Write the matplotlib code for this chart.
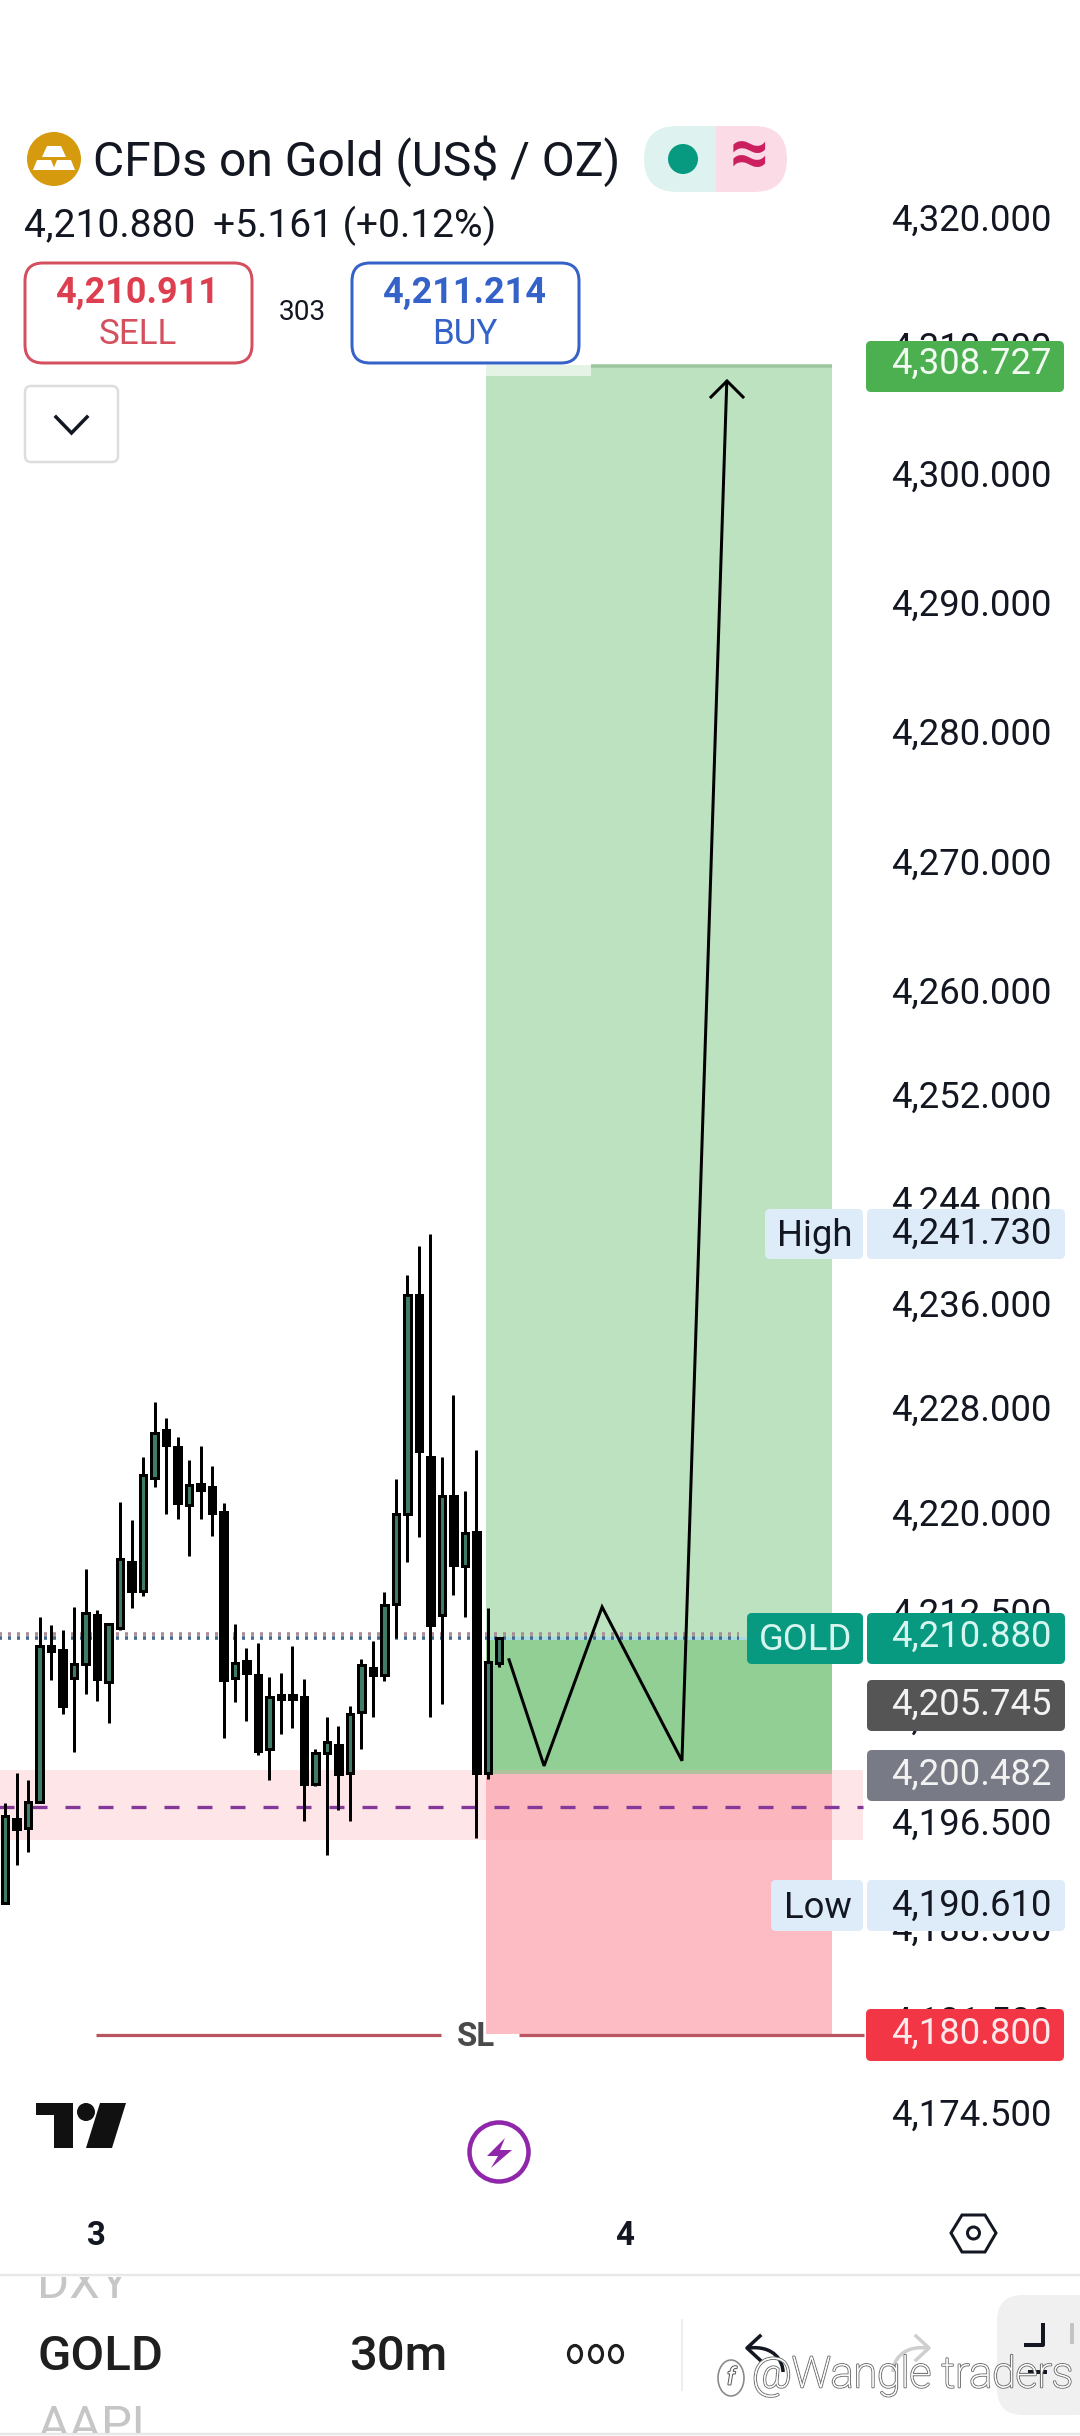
import math
import matplotlib
matplotlib.use("Agg")
import matplotlib.pyplot as plt
from matplotlib.patches import Rectangle, FancyBboxPatch, Polygon, Circle, Ellipse, PathPatch
from matplotlib.path import Path
from matplotlib.ticker import NullLocator, FixedLocator, FixedFormatter
from matplotlib.transforms import ScaledTranslation
import matplotlib.patheffects as pe

# ---------- data ----------
highs = [4197.95,4200.28,4199.72,4212.11,4211.51,4211.14,4212.85,4215.77,4212.63,4211.59,
         4220.87,4219.50,4224.30,4228.52,4227.25,4225.85,4224.08,4225.11,4223.60,4220.76,
         4211.55,4209.74,4210.11,4207.52,4207.82,4209.89,4207.38,4202.05,4204.53,4203.79,
         4205.34,4208.93,4210.26,4214.03,4222.61,4238.25,4240.46,4241.38,4224.27,4229.07,
         4221.72,4224.82,4212.77,4210.60]
lows  = [4190.30,4193.25,4194.25,4197.95,4207.30,4204.71,4201.83,4206.27,4205.72,4204.05,
         4211.14,4212.81,4213.73,4222.05,4219.95,4219.57,4216.74,4219.57,4218.28,4202.87,
         4205.64,4204.16,4201.64,4199.69,4203.24,4203.67,4196.58,4199.28,4193.99,4197.40,
         4196.58,4202.09,4204.53,4207.27,4210.52,4216.33,4218.17,4204.53,4205.49,4213.77,
         4212.11,4195.29,4199.76,4208.30]
opens = [4190.37,4196.73,4196.10,4198.03,4209.93,4209.56,4207.49,4208.55,4212.26,4207.12,
         4211.29,4216.33,4214.10,4222.71,4226.34,4225.07,4220.61,4222.27,4221.98,4220.13,
         4207.45,4208.78,4207.67,4202.09,4206.16,4206.16,4205.98,4199.43,4201.79,4202.39,
         4200.24,4204.86,4208.19,4207.67,4213.07,4219.98,4236.69,4224.34,4212.29,4221.35,
         4215.99,4218.62,4200.24,4208.59]
closes= [4196.95,4195.98,4198.06,4209.93,4209.52,4205.31,4208.55,4212.44,4207.38,4211.55,
         4216.55,4214.10,4222.90,4226.15,4225.22,4220.80,4222.15,4221.79,4220.06,4207.30,
         4208.59,4207.82,4201.94,4205.98,4205.86,4205.86,4199.43,4201.76,4202.57,4200.17,
         4204.71,4208.48,4207.67,4213.03,4219.98,4236.69,4224.78,4211.51,4221.31,4216.03,
         4218.47,4200.28,4208.67,4210.52]

tick_prices = [4320,4310,4300,4290,4280,4270,4260,4252,4244,4236,4228,4220,4212.5,4204.5,4196.5,4188.5,4181.5,4174.5]
tick_labels = ["4,320.000","4,310.000","4,300.000","4,290.000","4,280.000","4,270.000","4,260.000",
               "4,252.000","4,244.000","4,236.000","4,228.000","4,220.000","4,212.500","4,204.500",
               "4,196.500","4,188.500","4,181.500","4,174.500"]
time_ticks = [7.9, 53.9]
time_labels = ["3", "4"]

tp_price, entry_price, sl_price = 4308.53, 4200.19, 4180.49
zone_price = 4210.37
ask_price = 4210.83
bid_price = 4210.52
band_top, band_bottom = 4200.49, 4195.17
dash_price = 4197.68
pos_x0, pos_x1 = 41.85, 71.95
band_x1 = 74.65
white_x1 = 51.0
zig_x = [43.85, 46.9, 51.95, 58.9, 62.8]
zig_y = [4208.85, 4200.78, 4212.87, 4201.17, 4307.21]

W, H = 1080, 2436
fig = plt.figure(figsize=(W/100, H/100), dpi=100, facecolor="white")
plt.rcParams["font.family"] = ["Roboto", "DejaVu Sans"]
px = 0.72  # one pixel in points

# ---------- chart axes (bar index / log price) ----------
ax = fig.add_axes([0, 0, 1, 1])
ax.set_yscale("log")
K = 55312.0
ax.set_ylim(4320*math.exp(-(H-218)/K), 4320*math.exp(218/K))
ax.set_xlim(-5.2/11.49, (W-5.2)/11.49)
for s in ax.spines.values():
    s.set_visible(False)
ax.yaxis.tick_right()
ax.yaxis.set_major_locator(FixedLocator(tick_prices))
ax.yaxis.set_major_formatter(FixedFormatter(tick_labels))
ax.yaxis.set_minor_locator(NullLocator())
ax.tick_params(axis="y", length=0, pad=-(W-891)*px, labelsize=36.5*px, labelcolor="#131722")
ax.set_xticks(time_ticks)
ax.set_xticklabels(time_labels, fontweight="bold", fontsize=33*px, color="#131722")
ax.xaxis.set_minor_locator(NullLocator())
ax.tick_params(axis="x", length=0, pad=-216*px)
lift = ScaledTranslation(0, 1.5/100, fig.dpi_scale_trans)
for lbl in ax.get_yticklabels():
    lbl.set_transform(lbl.get_transform() + lift)

# position tool
GREEN, GREEN2, RED = "#bce2c0", "#92cf95", "#fdbcc3"
ax.fill_between([pos_x0, pos_x1], entry_price, tp_price, color=GREEN, lw=0, zorder=1)
ax.fill_between([pos_x0, pos_x1], entry_price, zone_price, color=GREEN2, lw=0, zorder=1.1)
ax.fill_between([pos_x0, pos_x1], sl_price, entry_price, color=RED, lw=0, zorder=1)
ax.fill_between([pos_x0, white_x1], 4307.68, tp_price, color="#e4f3e5", lw=0, zorder=1.2)
ax.plot([white_x1, pos_x1], [tp_price-0.1, tp_price-0.1], color="#9dc5a0", lw=3.5*px, zorder=1.2, solid_capstyle="butt")
# demand zone
ax.fill_between([-1, band_x1], band_bottom, band_top, color="#f9a9b3", alpha=0.3, lw=0, zorder=1.3)
ax.plot([-0.63, band_x1], [dash_price, dash_price], color="#84389a", lw=3.3*px, dashes=(15/3.3, 18/3.3), zorder=1.4)

# current price lines
ax.plot([pos_x0, pos_x1], [bid_price, bid_price], color="#a8dbe0", lw=3*px, zorder=1.45)
ax.plot([-1, 63.9], [ask_price, ask_price], color="#a98c98", lw=3.6*px, dashes=(3/3.6, 6/3.6), zorder=1.5)
ax.plot([-1, 63.9], [bid_price, bid_price], color="#466a8e", lw=3.6*px, dashes=(3/3.6, 6/3.6), zorder=1.6)

# candles
UP = "#3f7c68"
for i, (o_, h_, l_, c_) in enumerate(zip(opens, highs, lows, closes)):
    ax.vlines(i, l_, h_, color="black", lw=3*px, zorder=3)
    ax.bar(i, abs(c_-o_), bottom=min(o_, c_), width=0.56, color=UP if c_ >= o_ else "black",
           edgecolor="black", lw=3*px, zorder=4)

# zigzag
ax.plot(zig_x, zig_y, color="black", lw=3*px, zorder=5, solid_joinstyle="miter")

# ---------- overlay in pixels ----------
o = fig.add_axes([0, 0, 1, 1], facecolor="none")
o.set_xlim(0, W); o.set_ylim(H, 0); o.axis("off")

def T(x, y, s, size, color="#131722", ha="left", weight="normal", **kw):
    return o.text(x, y+2.5, s, fontsize=size*px, color=color, ha=ha, va="center", fontweight=weight, zorder=10, **kw)

def box(x0, y0, x1, y1, fc, ec="none", lw=0, r=6, z=6):
    p = FancyBboxPatch((x0+r, y0+r), x1-x0-2*r, y1-y0-2*r, boxstyle=f"round,pad={r},rounding_size={r}",
                       fc=fc, ec=ec, lw=lw*px, zorder=z)
    o.add_patch(p); return p

# arrow head
o.plot([711, 727, 743], [397, 381, 397], color="black", lw=3*px, zorder=5, solid_joinstyle="miter")

# header
o.add_patch(Ellipse((54, 159), 54, 54, fc="#d69a0f", ec="none", zorder=6))
for pts in ([(47,146),(61,146),(66,157),(42,157)], [(37,160),(51,160),(55,170),(33,170)], [(57,160),(71,160),(75,170),(53,170)]):
    o.add_patch(Polygon(pts, fc="white", ec="none", zorder=7))
T(93, 159, "CFDs on Gold (US$ / OZ)", 48)
clip_l = Rectangle((644, 126), 72, 66, transform=o.transData)
clip_r = Rectangle((716, 126), 72, 66, transform=o.transData)
pl = box(644, 126, 787, 192, "#def3f0", r=33); pl.set_clip_path(clip_l)
pr = box(644, 126, 787, 192, "#fbdce6", r=33); pr.set_clip_path(clip_r)
o.add_patch(Ellipse((683, 159), 30, 30, fc="#089981", ec="none", zorder=7))
T(749, 154, "≈", 68, "#cc1f5f", ha="center", weight="bold")
T(24, 223, "4,210.880", 39)
T(213, 223, "+5.161 (+0.12%)", 39)

# sell / buy
box(25, 263, 252, 363, "white", "#d5505f", 3, r=18)
T(138, 290, "4,210.911", 36, "#dd3e50", ha="center", weight="bold")
T(138, 332, "SELL", 35, "#d5505f", ha="center")
T(302, 310, "303", 28, ha="center")
box(352, 263, 579, 363, "white", "#3562c8", 3, r=18)
T(465, 290, "4,211.214", 36, "#3562c8", ha="center", weight="bold")
T(465, 332, "BUY", 35, "#3562c8", ha="center")
box(25, 386, 118, 462, "white", "#dddddd", 2.5, r=6)
o.plot([56, 71.5, 87], [417, 433, 417], color="#131722", lw=3.5*px, zorder=7, solid_joinstyle="miter")

# price badges
VAL_X = 891
box(866, 341, 1064, 392, "#4caf50", r=5)
T(VAL_X, 361, "4,308.727", 36.5, "#f2fbf2")
LB = "#deebf9"
box(765, 1209, 863, 1259, LB, r=5); box(867, 1209, 1065, 1259, LB, r=5)
T(852, 1233, "High", 36.5, ha="right"); T(VAL_X, 1231, "4,241.730", 36.5)
box(747, 1613, 863, 1664, "#089981", r=5); box(867, 1613, 1065, 1664, "#089981", r=5)
T(852, 1638, "GOLD", 36.5, "#d6f5ee", ha="right"); T(VAL_X, 1634, "4,210.880", 36.5, "#d6f5ee")
box(867, 1680, 1065, 1731, "#555555", r=5)
T(VAL_X, 1702, "4,205.745", 36.5, "#f2f2f2")
box(867, 1750, 1065, 1801, "#787b86", r=5)
T(VAL_X, 1772, "4,200.482", 36.5, "#f2f2f2")
box(771, 1880, 863, 1931, LB, r=5); box(867, 1880, 1065, 1931, LB, r=5)
T(852, 1906, "Low", 36.5, ha="right"); T(VAL_X, 1903, "4,190.610", 36.5)
box(866, 2009, 1064, 2061, "#f23645", r=5)
T(VAL_X, 2031, "4,180.800", 36.5, "#fde8ea")

# SL line
o.plot([96, 441], [2035, 2035], color="#b85560", lw=3.2*px, zorder=5, solid_capstyle="butt")
o.plot([519, 864], [2035, 2035], color="#b85560", lw=3.2*px, zorder=5, solid_capstyle="butt")
T(476, 2034, "SL", 33, "#4a4a4a", ha="center", weight="bold")

# TradingView mark
o.add_patch(Polygon([(36,2103),(73,2103),(73,2148),(54,2148),(54,2115),(36,2115)], fc="#111111", ec="none", zorder=6))
o.add_patch(Ellipse((86, 2112), 18, 18, fc="#111111", ec="none", zorder=6))
o.add_patch(Polygon([(100,2103),(126,2103),(112,2148),(86,2148)], fc="#111111", ec="none", zorder=6))

# bolt button
o.add_patch(Circle((499, 2152), 29.5, fc="white", ec="#9027ab", lw=4.5*px, zorder=6))
o.add_patch(Polygon([(505,2138),(487,2156),(498,2156),(491,2168),(512,2150),(500,2150)], fc="#9027ab", ec="none", zorder=7))

# settings hexagon
o.add_patch(Polygon([(951,2233),(962,2215),(985,2215),(996,2233),(985,2252),(962,2252)], fc="none", ec="#131722", lw=3*px, zorder=6, joinstyle="miter"))
o.add_patch(Circle((973.5, 2233), 6, fc="none", ec="#131722", lw=3*px, zorder=6))

# toolbar
o.plot([0, W], [2275, 2275], color="#e8e8e8", lw=2.5*px, zorder=6)
o.plot([0, W], [2434, 2434], color="#e8e8e8", lw=2.5*px, zorder=6)
t = T(37, 2283, "DXY", 49, "#c6c6c6")
t.set_clip_on(True)
t.set_clip_path(Rectangle((0, 2277), 400, 40, transform=o.transData))
T(37, 2354, "GOLD", 49, "#1f1f1f", weight="medium")
T(349, 2354, "30m", 49, "#1f1f1f", weight="medium")
for cx in (575, 596, 616):
    o.add_patch(Ellipse((cx, 2354), 13, 17, fc="none", ec="#1f1f1f", lw=3.2*px, zorder=6))
o.plot([682, 682], [2320, 2390], color="#eeeeee", lw=2*px, zorder=6)
t = T(37, 2425, "AAPL", 49, "#c6c6c6")
t.set_clip_on(True)
t.set_clip_path(Rectangle((0, 2400), 400, 33, transform=o.transData))
box(997, 2295, 1100, 2415, "#f0f0f0", r=26, z=5)
o.plot([1026, 1043, 1043], [2345, 2345, 2325], color="#131722", lw=4*px, zorder=7)
o.plot([1072, 1072], [2325, 2342], color="#c4c4c4", lw=4*px, zorder=7)
o.plot([1030, 1045], [2372, 2372], color="#131722", lw=4*px, zorder=7)
# undo / redo
o.add_patch(PathPatch(Path([(748,2348),(775,2345),(783,2362),(783,2372)], [1,4,4,4]), fc="none", ec="#131722", lw=3.5*px, zorder=6))
o.plot([760, 747, 760], [2336, 2348, 2360], color="#131722", lw=3.5*px, zorder=6)
o.add_patch(PathPatch(Path([(928,2348),(901,2345),(893,2362),(893,2372)], [1,4,4,4]), fc="none", ec="#cfcfcf", lw=3.5*px, zorder=6))
o.plot([916, 929, 916], [2336, 2348, 2360], color="#cfcfcf", lw=3.5*px, zorder=6)

# watermark
wm = T(752, 2373, "@Wangle traders", 43, "white", weight="light")
wm.set_path_effects([pe.withStroke(linewidth=1.6, foreground="#777777"), pe.Normal()])
o.add_patch(Ellipse((731, 2378), 26, 36, fc="none", ec="#888888", lw=1.6*px, zorder=9))
o.text(731, 2378, "f", fontsize=24*px, color="white", ha="center", va="center", zorder=10, fontstyle="italic",
       path_effects=[pe.withStroke(linewidth=1.4, foreground="#555555")])

fig.savefig("out.png", dpi=100, facecolor="white")
